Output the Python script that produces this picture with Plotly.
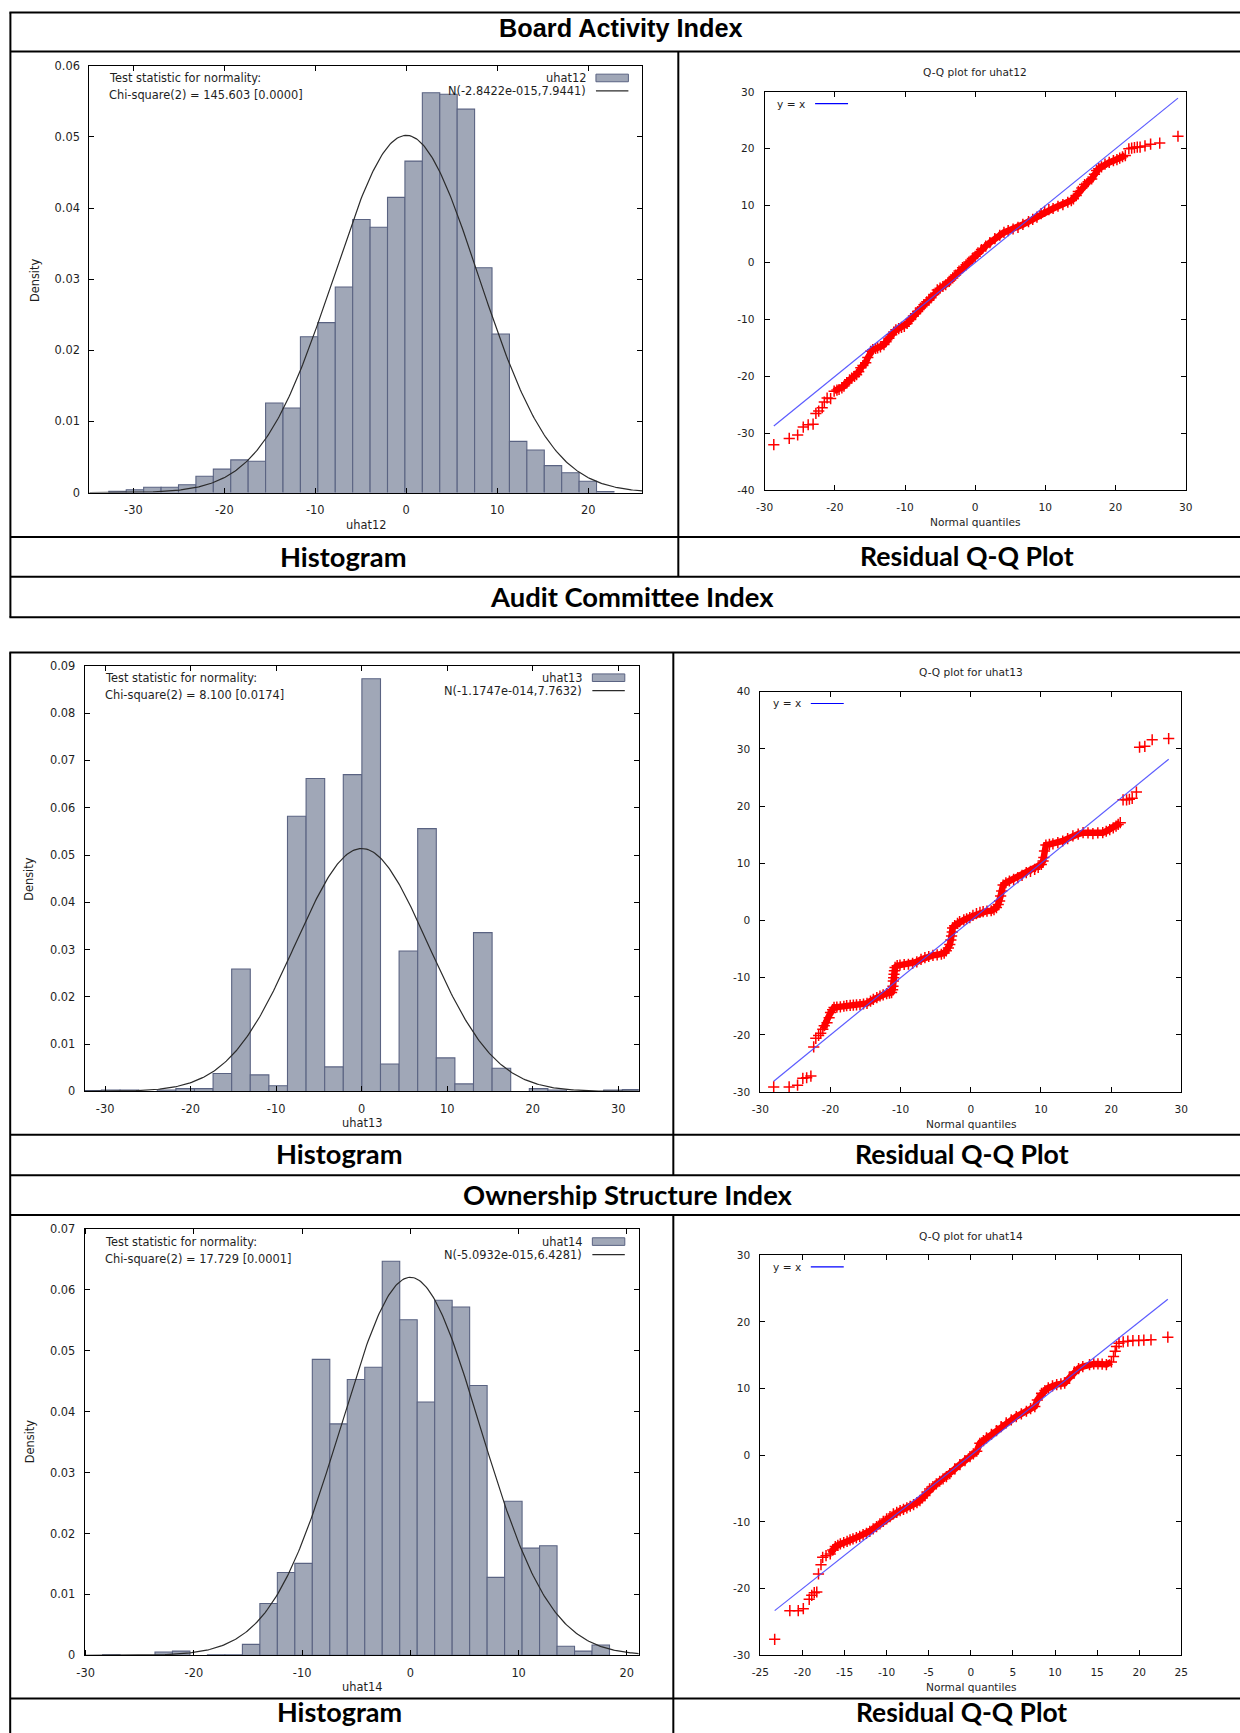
import numpy as np
import plotly.graph_objects as go

W, H = 1240, 1733
# the photographed page shows up slightly scaled and offset; positions below are
# given in reference pixels and mapped to page pixels with this measured correction
AX, SX = 7.6, 0.9887
AY, SY = 5.5, 0.9925

# ---------------- DATA ----------------
# Histogram 1 (uhat12)
h12_first_edge = -32.7
h12_bin_width = 1.915
h12_density = [0.0002, 0.0004, 0.00075, 0.00075, 0.0011, 0.0023, 0.0033, 0.0046, 0.0044,
               0.0126, 0.0119, 0.0219, 0.0239, 0.0289, 0.0384, 0.0373, 0.0415, 0.0466,
               0.0562, 0.0560, 0.0539, 0.0316, 0.0223, 0.0072, 0.0060, 0.0038, 0.0028,
               0.0016, 0.00015]
h12_norm = (-2.8422e-15, 7.9441)
h12_stat = "Chi-square(2) = 145.603 [0.0000]"
h12_label = "N(-2.8422e-015,7.9441)"

# Histogram 2 (uhat13)
h13_first_edge = -32.6
h13_bin_width = 2.175
h13_density = [0.0002, 0.0003, 0.0003, 0.0, 0.0003, 0.0006, 0.0006, 0.0038, 0.0259, 0.0035,
               0.0012, 0.0582, 0.0662, 0.0052, 0.0670, 0.0873, 0.0058, 0.0297, 0.0556,
               0.0071, 0.0016, 0.0336, 0.0049, 0.0, 0.0006, 0.0003, 0.0, 0.0, 0.0003, 0.0004]
h13_norm = (-1.1747e-14, 7.7632)
h13_stat = "Chi-square(2) = 8.100 [0.0174]"
h13_label = "N(-1.1747e-014,7.7632)"

# Histogram 3 (uhat14)
h14_first_edge = -28.44
h14_bin_width = 1.615
h14_density = [0.0001, 0.0, 0.0, 0.00056, 0.0007, 0.0, 0.0001, 0.0001, 0.0018, 0.0085,
               0.0136, 0.0151, 0.0486, 0.0380, 0.0453, 0.0473, 0.0647, 0.0551, 0.0416,
               0.0583, 0.0572, 0.0443, 0.0128, 0.0253, 0.0176, 0.0180, 0.0015, 0.0007, 0.0017]
h14_norm = (-5.0932e-15, 6.4281)
h14_stat = "Chi-square(2) = 17.729 [0.0001]"
h14_label = "N(-5.0932e-015,6.4281)"

# Q-Q plot uhat12: normal quantiles (x) and sorted residuals (y)
qq12_x = [-28.7, -26.5, -25.3, -24.5, -23.8, -23.1, -22.7, -22.3, -21.8, -21.5, -21.1, -20.6, -20.1,
          -19.7, -19.4, -19.0, -18.7, -18.3, -17.9, -17.6, -17.2, -16.9, -16.6, -16.3, -16.0, -15.6,
          -15.3, -14.9, -14.6, -14.2, -13.9, -13.5, -13.0, -12.7, -12.3, -11.9, -11.6, -11.3, -10.9,
          -10.5, -10.1, -9.7, -9.2, -8.8, -8.5, -8.2, -7.8, -7.3, -6.9, -6.6, -6.3, -5.9, -5.4, -5.0,
          -4.6, -4.2, -3.7, -3.2, -2.8, -2.3, -1.8, -1.3, -0.9, -0.4, 0.0, 0.4, 0.9, 1.5, 2.1, 2.8,
          3.5, 4.1, 4.7, 5.4, 6.1, 6.8, 7.6, 8.2, 8.8, 9.4, 9.9, 10.5, 11.1, 11.8, 12.5, 13.2, 13.7,
          14.0, 14.4, 14.7, 15.2, 15.6, 16.1, 16.6, 17.0, 17.3, 17.6, 18.0, 18.5, 19.1, 19.7, 20.2,
          20.6, 21.0, 21.4, 21.9, 22.3, 22.7, 23.1, 23.5, 24.2, 25.0, 26.3, 28.9]
qq12_y = [-32.0, -30.9, -30.3, -28.9, -28.5, -28.4, -26.5, -26.1, -25.5, -24.5, -23.8, -23.9, -22.6,
          -22.4, -22.3, -22.0, -21.7, -21.1, -20.6, -20.3, -20.0, -19.7, -19.2, -18.5, -18.1, -17.6,
          -16.7, -15.6, -15.3, -15.1, -15.0, -14.8, -14.4, -13.9, -13.3, -12.7, -12.2, -11.8, -11.6,
          -11.4, -11.2, -10.7, -10.0, -9.4, -9.0, -8.6, -8.0, -7.4, -6.9, -6.6, -6.2, -5.6, -4.8, -4.5,
          -4.2, -3.9, -3.3, -2.7, -2.2, -1.5, -0.9, -0.4, 0.1, 0.7, 1.1, 1.7, 2.3, 2.9, 3.5, 4.2,
          4.8, 5.3, 5.6, 5.9, 6.2, 6.7, 7.2, 7.6, 8.0, 8.6, 9.0, 9.3, 9.5, 9.9, 10.2, 10.6, 10.9,
          11.2, 11.8, 12.5, 13.1, 13.7, 14.2, 14.7, 15.5, 16.2, 16.5, 16.8, 17.3, 17.6, 17.9, 18.1,
          18.35, 18.6, 18.8, 20.0, 20.1, 20.2, 20.3, 20.3, 20.5, 20.8, 21.0, 22.2]

# Q-Q plot uhat13
qq13_x = [-28.1, -25.9, -24.7, -23.95, -23.4, -22.8, -22.4, -22.1, -21.7, -21.4, -21.1, -20.9, -20.5,
          -20.2, -20.0, -19.7, -19.5, -19.1, -18.6, -18.1, -17.7, -17.2, -16.75, -16.3, -15.8, -15.3,
          -14.8, -14.3, -13.9, -13.4, -12.95, -12.5, -12.0, -11.6, -11.3, -11.15, -11.1, -11.05, -11.0,
          -10.95, -10.9, -10.8, -10.5, -10.1, -9.5, -8.9, -8.3, -7.7, -7.1, -6.55, -6.0, -5.4, -4.8,
          -4.2, -3.8, -3.5, -3.2, -3.0, -2.85, -2.75, -2.65, -2.6, -2.3, -1.9, -1.6, -1.0, -0.6, -0.15,
          0.3, 0.8, 1.3, 1.75, 2.3, 2.9, 3.3, 3.65, 3.9, 4.1, 4.25, 4.4, 4.6, 5.0, 5.5, 6.1, 6.7, 7.3,
          7.9, 8.5, 9.1, 9.6, 10.05, 10.3, 10.4, 10.5, 10.7, 11.2, 11.7, 12.4, 13.1, 13.8, 14.55, 15.3,
          16.0, 16.7, 17.4, 18.1, 18.8, 19.3, 19.8, 20.3, 20.7, 21.0, 21.3, 21.7, 22.2, 22.6, 23.0,
          23.6, 24.05, 24.8, 25.85, 28.2]
qq13_y = [-29.1, -29.1, -28.8, -27.6, -27.5, -27.2, -22.1, -20.6, -20.1, -19.7, -19.0, -18.4, -17.9,
          -17.0, -16.1, -15.6, -15.2, -15.15, -15.1, -15.0, -14.9, -14.85, -14.8, -14.75, -14.7, -14.6,
          -14.5, -14.1, -13.8, -13.5, -13.2, -13.0, -12.8, -12.7, -12.6, -12.1, -11.5, -10.6, -10.0,
          -9.4, -8.8, -8.2, -7.9, -7.8, -7.7, -7.65, -7.5, -7.25, -6.8, -6.5, -6.3, -6.1, -6.0,
          -5.9, -5.7, -5.3, -4.8, -4.2, -3.4, -2.7, -2.0, -1.3, -0.9, -0.5, -0.2, 0.1, 0.3, 0.5,
          0.9, 1.2, 1.4, 1.55, 1.65, 1.7, 1.9, 2.25, 2.8, 3.4, 4.3, 5.15, 6.2, 6.6, 6.9, 7.2, 7.5, 7.9,
          8.35, 8.6, 8.95, 9.3, 9.8, 10.4, 11.0, 12.15, 13.2, 13.3, 13.4, 13.6, 13.9, 14.3, 14.8, 15.1,
          15.35, 15.3, 15.2, 15.3, 15.35, 15.6, 15.9, 16.2, 16.5, 16.8, 17.1, 21.1, 21.1, 21.2, 21.35,
          22.45, 30.3, 30.45, 31.6, 31.8]

# Q-Q plot uhat14
qq14_x = [-23.3, -21.5, -20.5, -19.9, -19.2, -18.9, -18.6, -18.3, -18.1, -17.8, -17.6, -17.2, -16.7,
          -16.4, -16.1, -15.8, -15.5, -15.1, -14.7, -14.35, -14.0, -13.6, -13.2, -12.8, -12.4, -12.0,
          -11.6, -11.2, -10.8, -10.4, -10.0, -9.6, -9.2, -8.8, -8.4, -8.0, -7.6, -7.2, -6.8, -6.4,
          -6.05, -5.75, -5.45, -5.2, -4.9, -4.5, -4.1, -3.7, -3.3, -2.9, -2.5, -1.9, -1.3, -0.7, -0.1,
          0.3, 0.7, 1.07, 1.5, 1.86, 2.45, 3.05, 3.6, 4.2, 4.8, 5.4, 6.0, 6.6, 7.1, 7.6, 7.9, 8.4, 8.8,
          9.2, 9.7, 10.2, 10.7, 11.15, 11.7, 12.3, 12.8, 13.3, 14.1, 14.6, 15.1, 15.6, 16.1, 16.7,
          16.95, 17.15, 17.3, 17.6, 18.1, 18.65, 19.25, 19.95, 20.55, 21.4, 23.4]
qq14_y = [-27.6, -23.3, -23.3, -23.0, -21.6, -21.0, -20.6, -20.5, -17.8, -16.4, -15.3, -15.05, -14.8,
          -14.2, -13.7, -13.5, -13.3, -13.1, -12.9, -12.7, -12.55, -12.35, -12.15, -11.9, -11.7, -11.4,
          -11.05, -10.7, -10.3, -9.9, -9.55, -9.2, -8.8, -8.55, -8.3, -8.1, -7.9, -7.65, -7.4, -7.1,
          -6.8, -6.4, -6.05, -5.5, -5.05, -4.7, -4.3, -3.9, -3.55, -3.2, -2.75, -2.05, -1.4, -0.8, -0.2,
          0.2, 0.6, 1.8, 2.2, 2.6, 3.15, 3.7, 4.3, 4.85, 5.3, 5.8, 6.2, 6.6, 7.0, 7.3, 8.3, 9.3, 9.7,
          10.1, 10.4, 10.6, 10.7, 10.8, 11.6, 12.5, 13.0, 13.3, 13.6, 13.7, 13.7, 13.65, 13.6, 14.0,
          14.8, 15.6, 16.3, 16.8, 17.0, 17.1, 17.2, 17.2, 17.25, 17.3, 17.7]

# index ranges (start, stop) of the dense, overlapping part of each Q-Q point cloud
qq12_dense = (12, 105)
qq13_dense = (10, 113)
qq14_dense = (12, 88)

# Axis tick values
h12_xticks = [-30, -20, -10, 0, 10, 20]
h12_yticks = [0, 0.01, 0.02, 0.03, 0.04, 0.05, 0.06]
h13_xticks = [-30, -20, -10, 0, 10, 20, 30]
h13_yticks = [0, 0.01, 0.02, 0.03, 0.04, 0.05, 0.06, 0.07, 0.08, 0.09]
h14_xticks = [-30, -20, -10, 0, 10, 20]
h14_yticks = [0, 0.01, 0.02, 0.03, 0.04, 0.05, 0.06, 0.07]
qq12_xticks = [-30, -20, -10, 0, 10, 20, 30]
qq12_yticks = [-40, -30, -20, -10, 0, 10, 20, 30]
qq13_xticks = [-30, -20, -10, 0, 10, 20, 30]
qq13_yticks = [-30, -20, -10, 0, 10, 20, 30, 40]
qq14_xticks = [-25, -20, -15, -10, -5, 0, 5, 10, 15, 20, 25]
qq14_yticks = [-30, -20, -10, 0, 10, 20, 30]

# Section titles
section_titles = ["Board Activity Index", "Audit Committee Index", "Ownership Structure Index"]
cell_titles = ["Histogram", "Residual Q-Q Plot"]

# ---------------- STYLE ----------------
BAR_FILL = "#a0a7b7"
BAR_LINE = "#5a6382"
GFONT = "DejaVu Sans"
TXT = "#1e1e1e"
CAL = "Lato"
HF = 11.4   # histogram text size
QF = 10.6   # q-q text size

fig = go.Figure()
layout = dict(width=W, height=H, margin=dict(l=0, r=0, t=0, b=0), autosize=False,
              paper_bgcolor="white", plot_bgcolor="white", showlegend=False)
annotations = []
shapes = []


def px_x(x):
    return ((x - AX) / SX) / W


def px_y(y):
    return 1 - ((y - AY) / SY) / H


def tick_text(vals):
    out = []
    for v in vals:
        if v == 0:
            out.append("0")
        elif isinstance(v, float) and abs(v) < 1:
            out.append("%.2f" % v)
        else:
            out.append(str(v))
    return out


def axis(domain, rng, ticks, fsize, standoff):
    return dict(domain=domain, range=rng, tickmode="array", tickvals=ticks, ticktext=tick_text(ticks),
                ticks="inside", ticklen=5, tickwidth=1, tickcolor="#000", mirror="ticks",
                showline=True, linecolor="#000", linewidth=1, showgrid=False, zeroline=False,
                tickfont=dict(family=GFONT, size=fsize, color=TXT), ticklabelstandoff=standoff,
                fixedrange=True)


def text(t, x, y, size, family=GFONT, xanchor="center", yanchor="middle", angle=0, weight="normal",
         color=TXT):
    annotations.append(dict(text=t, x=px_x(x), y=px_y(y), xref="paper", yref="paper", showarrow=False,
                            xanchor=xanchor, yanchor=yanchor, textangle=angle,
                            font=dict(family=family, size=size, color=color, weight=weight)))


def line(x0, y0, x1, y1, width=2, color="#000"):
    shapes.append(dict(type="line", xref="paper", yref="paper", x0=px_x(x0), y0=px_y(y0),
                       x1=px_x(x1), y1=px_y(y1), line=dict(color=color, width=width)))


def histogram(idx, box, xr, yr, xticks, yticks, first_edge, bw, dens, norm, stat, nlabel, xlabel,
              leg_y, dens_label_pos):
    x0, y0, x1, y1 = box
    xa = "xaxis" if idx == 1 else "xaxis%d" % idx
    ya = "yaxis" if idx == 1 else "yaxis%d" % idx
    xr_ = "x" if idx == 1 else "x%d" % idx
    yr_ = "y" if idx == 1 else "y%d" % idx
    layout[xa] = axis([px_x(x0), px_x(x1)], xr, xticks, HF, 7)
    layout[ya] = axis([px_y(y1), px_y(y0)], yr, yticks, HF, 6)
    layout[xa]["anchor"] = yr_
    layout[ya]["anchor"] = xr_
    centers, heights = [], []
    for i, d in enumerate(dens):
        if d > 0:
            centers.append(first_edge + (i + 0.5) * bw)
            heights.append(d)
    fig.add_trace(go.Bar(x=centers, y=heights, width=bw, xaxis=xr_, yaxis=yr_,
                         marker=dict(color=BAR_FILL, line=dict(color=BAR_LINE, width=1.1))))
    mu, sd = norm
    xs = np.linspace(xr[0], xr[1], 400)
    ys = np.exp(-0.5 * ((xs - mu) / sd) ** 2) / (sd * np.sqrt(2 * np.pi))
    fig.add_trace(go.Scatter(x=xs, y=ys, mode="lines", xaxis=xr_, yaxis=yr_,
                             line=dict(color="#2b2b2b", width=1.2)))
    text("Test statistic for normality:", x0 + 18, leg_y[0], HF, xanchor="left")
    text(stat, x0 + 18, leg_y[1], HF, xanchor="left")
    lx_right = x1 - 54.5
    text(xlabel, lx_right, leg_y[0], HF, xanchor="right")
    text(nlabel, lx_right, leg_y[1] - 4.5, HF, xanchor="right")
    shapes.append(dict(type="rect", xref="paper", yref="paper", x0=px_x(lx_right + 8),
                       x1=px_x(lx_right + 40.5), y0=px_y(leg_y[0] + 3.8), y1=px_y(leg_y[0] - 3.8),
                       fillcolor=BAR_FILL, line=dict(color=BAR_LINE, width=1)))
    line(lx_right + 8, leg_y[1] - 4.5, lx_right + 40.5, leg_y[1] - 4.5, width=1.2, color="#2b2b2b")
    text(xlabel, (x0 + x1) / 2, y1 + 32, HF)
    text("Density", dens_label_pos[0], dens_label_pos[1], HF, angle=-90)


def qqplot(idx, box, xr, yr, xticks, yticks, qx, qy, dense, title):
    x0, y0, x1, y1 = box
    xa = "xaxis%d" % idx
    ya = "yaxis%d" % idx
    xr_ = "x%d" % idx
    yr_ = "y%d" % idx
    layout[xa] = axis([px_x(x0), px_x(x1)], xr, xticks, QF, 7)
    layout[ya] = axis([px_y(y1), px_y(y0)], yr, yticks, QF, 7)
    layout[xa]["anchor"] = yr_
    layout[ya]["anchor"] = xr_
    lo, hi = min(qx), max(qx)
    # the dense part of the point cloud forms a solid band of overlapping '+' marks
    a, b = dense
    fig.add_trace(go.Scatter(x=qx[a:b], y=qy[a:b], mode="lines", xaxis=xr_, yaxis=yr_,
                             line=dict(color="#ff0000", width=6.5)))
    fig.add_trace(go.Scatter(x=qx, y=qy, mode="markers", xaxis=xr_, yaxis=yr_,
                             marker=dict(symbol="cross-thin", size=8, color="#ff0000",
                                         line=dict(color="#ff0000", width=1.5))))
    fig.add_trace(go.Scatter(x=[lo, hi], y=[lo, hi], mode="lines", xaxis=xr_, yaxis=yr_,
                             line=dict(color="#4a4aff", width=1.2), opacity=0.9))
    text(title, (x0 + x1) / 2, y0 - 19.6, QF)
    text("Normal quantiles", (x0 + x1) / 2, y1 + 32, QF)
    text("y = x", x0 + 10.5, y0 + 11.8, QF, xanchor="left")
    line(x0 + 50.5, y0 + 11.8, x0 + 83.5, y0 + 11.8, width=1.2, color="#0000ff")


histogram(1, (88, 64.3, 642, 491.4), [-34.85, 25.96], [0, 0.06], h12_xticks, h12_yticks,
          h12_first_edge, h12_bin_width, h12_density, h12_norm, h12_stat, h12_label, "uhat12",
          (76.5, 93.9), (33.8, 278.6))
qqplot(2, (764.5, 90.4, 1186.2, 489), [-30, 30], [-40, 30], qq12_xticks, qq12_yticks,
       qq12_x, qq12_y, qq12_dense, "Q-Q plot for uhat12")
histogram(3, (83.3, 664.8, 638.4, 1090.6), [-32.4, 32.4], [0, 0.09], h13_xticks, h13_yticks,
          h13_first_edge, h13_bin_width, h13_density, h13_norm, h13_stat, h13_label, "uhat13",
          (676.6, 694.0), (28.2, 878.3))
qqplot(4, (760.2, 690.6, 1181.8, 1091.2), [-30, 30], [-30, 40], qq13_xticks, qq13_yticks,
       qq13_x, qq13_y, qq13_dense, "Q-Q plot for uhat13")
histogram(5, (83.3, 1228.2, 638.4, 1654.8), [-30.1, 21.1], [0, 0.07], h14_xticks, h14_yticks,
          h14_first_edge, h14_bin_width, h14_density, h14_norm, h14_stat, h14_label, "uhat14",
          (1240.8, 1258.3), (28.2, 1441))
qqplot(6, (760.2, 1254.4, 1181.8, 1654.8), [-25, 25], [-30, 30], qq14_xticks, qq14_yticks,
       qq14_x, qq14_y, qq14_dense, "Q-Q plot for uhat14")

# ---------------- TABLE FRAME ----------------
# section 1
line(8, 11, 1260, 11)
line(9, 11, 9, 616)
line(9, 50, 1260, 50)
line(678, 50, 678, 575.5)
line(9, 535.7, 1260, 535.7)
line(9, 575.5, 1260, 575.5)
line(8, 616, 1260, 616)
# sections 2 and 3
line(8, 651.5, 1260, 651.5)
line(8.8, 651.5, 8.8, 1760)
line(673, 651.5, 673, 1174.5)
line(8.8, 1134, 1260, 1134)
line(8.8, 1174.5, 1260, 1174.5)
line(8.8, 1214.3, 1260, 1214.3)
line(673, 1214.3, 673, 1760)
line(8.8, 1698, 1260, 1698)

text(section_titles[0], 620.5, 27, 25.3, family="Liberation Sans", weight="bold", color="#000")
text(section_titles[1], 632, 595, 27.4, family=CAL, weight="bold", color="#000")
text(section_titles[2], 627.7, 1193.5, 27.4, family=CAL, weight="bold", color="#000")
for yy, xh, xq in [(555, 343, 967), (1153, 338.7, 962)]:
    text(cell_titles[0], xh, yy, 27.3, family=CAL, weight="bold", color="#000")
    text(cell_titles[1], xq, yy, 26.7, family=CAL, weight="bold", color="#000")
# last row sits at the bottom edge of the page; keep it fully visible
text(cell_titles[0], 338.7, 1711, 27, family=CAL, weight="bold", color="#000")
text(cell_titles[1], 962, 1711, 26.4, family=CAL, weight="bold", color="#000")

layout["annotations"] = annotations
layout["shapes"] = shapes
fig.update_layout(**layout)
fig.write_html("out.html", config={"displayModeBar": False},
               post_script="document.body.style.margin='0';"
                           "document.body.style.overflow='hidden';"
                           "document.documentElement.style.overflow='hidden';")
